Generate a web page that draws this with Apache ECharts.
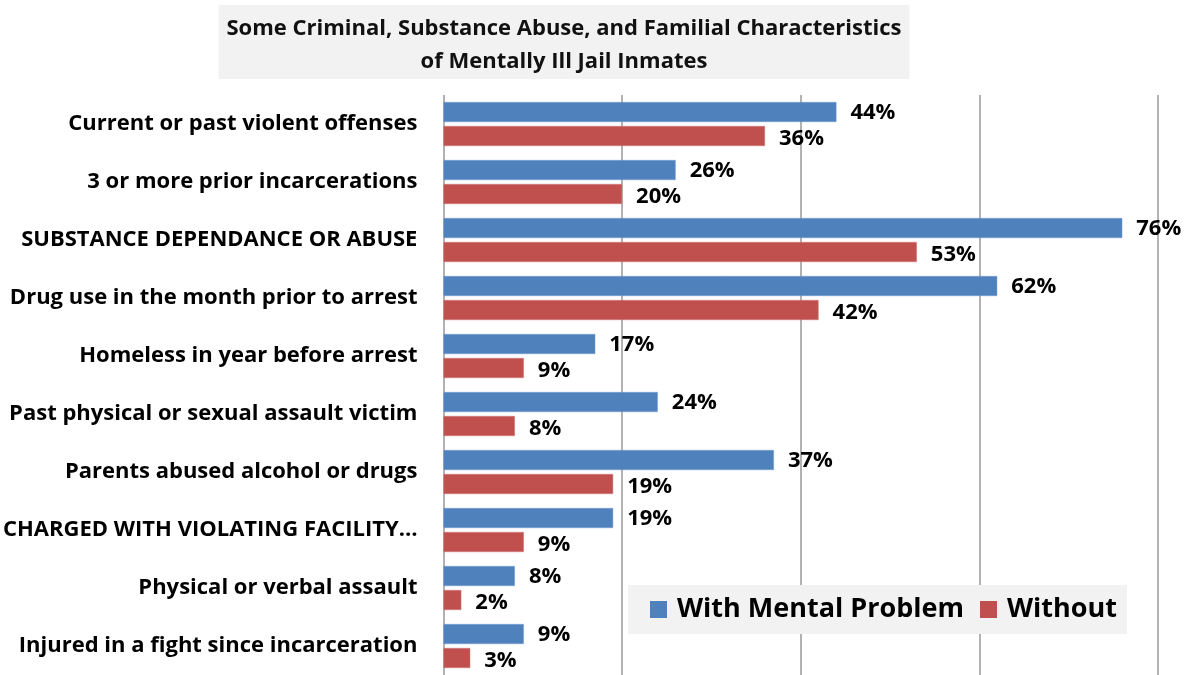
<!DOCTYPE html>
<html>
<head>
<meta charset="utf-8">
<script src="https://cdn.jsdelivr.net/npm/echarts@6/dist/echarts.min.js"></script>
<style>
  html, body { margin: 0; padding: 0; background: #fff; }
  #main { width: 1196px; height: 675px; }
</style>
</head>
<body>
<div id="main"></div>
<script>
var categories = [
    'Current or past violent offenses',
    '3 or more prior incarcerations',
    'SUBSTANCE DEPENDANCE OR ABUSE',
    'Drug use in the month prior to arrest',
    'Homeless in year before arrest',
    'Past physical or sexual assault victim',
    'Parents abused alcohol or drugs',
    'CHARGED WITH VIOLATING FACILITY\u2026',
    'Physical or verbal assault',
    'Injured in a fight since incarceration'
];
var withProblem = [44, 26, 76, 62, 17, 24, 37, 19, 8, 9];
var withoutProblem = [36, 20, 53, 42, 9, 8, 19, 9, 2, 3];
var seriesNames = ['With Mental Problem', 'Without'];

var FONT = '"Open Sans"';

var myChart = echarts.init(document.getElementById('main'));

function barLabel(dy) {
    return {
        show: true,
        position: 'right',
        distance: 14,
        offset: [0, dy],
        formatter: '{c}%',
        color: '#000',
        fontFamily: FONT,
        fontWeight: 'bold',
        fontSize: 22
    };
}

var option = {
    backgroundColor: '#ffffff',
    animation: false,
    title: {
        text: 'Some Criminal, Substance Abuse, and Familial Characteristics\nof Mentally Ill Jail Inmates',
        left: 556,
        top: 5,
        textAlign: 'center',
        backgroundColor: '#f2f2f2',
        padding: [7, 8, 1, 8],
        textStyle: {
            fontFamily: FONT,
            fontWeight: 'bold',
            fontSize: 22,
            lineHeight: 33,
            color: '#111',
            align: 'center'
        }
    },
    legend: {
        data: seriesNames,
        left: 628,
        top: 585,
        backgroundColor: '#f2f2f2',
        padding: [11, 10, 11, 22],
        itemWidth: 17,
        itemHeight: 17,
        itemGap: 16,
        icon: 'rect',
        itemStyle: { borderWidth: 0 },
        textStyle: {
            fontFamily: FONT,
            fontWeight: 'bold',
            fontSize: 27,
            color: '#000',
            padding: [0, 0, 0, 5]
        }
    },
    grid: {
        left: 443,
        right: 38,
        top: 95,
        bottom: 0,
        containLabel: false
    },
    xAxis: {
        type: 'value',
        min: 0,
        max: 80,
        interval: 20,
        axisLine: { show: false },
        axisTick: { show: false },
        axisLabel: { show: false },
        splitLine: { lineStyle: { color: '#999', width: 1.5 } }
    },
    yAxis: {
        type: 'category',
        inverse: true,
        data: categories,
        axisLine: { show: false },
        axisTick: { show: false },
        axisLabel: {
            margin: 26,
            lineHeight: 26,
            padding: [5, 0, 0, 0],
            color: '#000',
            fontFamily: FONT,
            fontWeight: 'bold',
            fontSize: 22
        }
    },
    series: [
        {
            name: seriesNames[0],
            type: 'bar',
            data: withProblem,
            barWidth: 20,
            barGap: '20%',
            itemStyle: { color: '#4f81bd', borderColor: '#7a9fd0', borderWidth: 0.5 },
            label: barLabel(1)
        },
        {
            name: seriesNames[1],
            type: 'bar',
            data: withoutProblem,
            barWidth: 20,
            barGap: '20%',
            itemStyle: { color: '#c0504d', borderColor: '#d27a78', borderWidth: 0.5 },
            label: barLabel(3)
        }
    ]
};

myChart.setOption(option);
</script>
</body>
</html>
